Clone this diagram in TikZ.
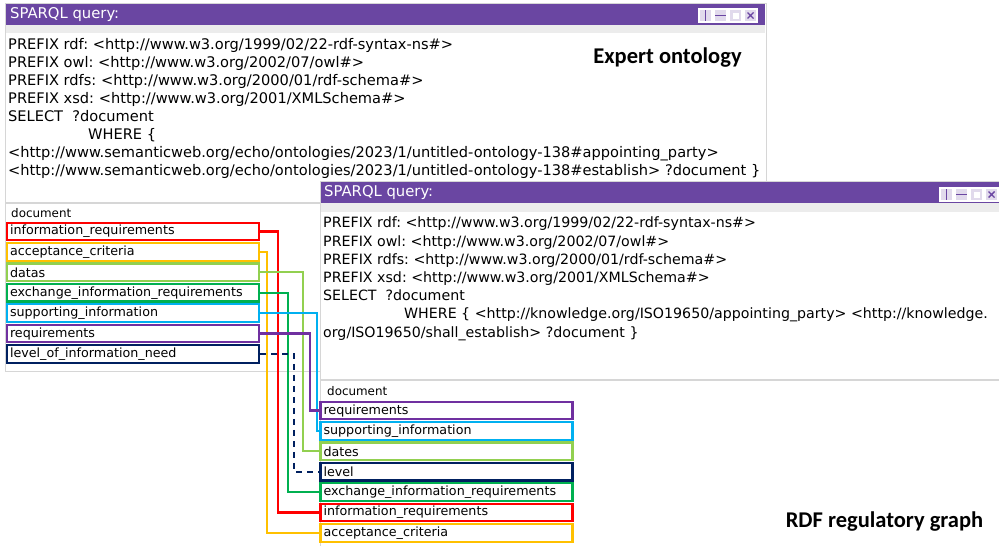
\documentclass[tikz,border=0pt]{standalone}
\usepackage{fontspec}
\setmainfont{DejaVu Sans}
\newfontfamily\headfont{Carlito}
\usepackage{xcolor}
\definecolor{titlecolour}{RGB}{106,70,162}
\definecolor{framecolour}{RGB}{214,214,214}
\definecolor{stripcolour}{RGB}{236,236,236}
\definecolor{inforeqcolour}{RGB}{255,0,0}
\definecolor{acceptcolour}{RGB}{255,192,0}
\definecolor{datecolour}{RGB}{146,208,80}
\definecolor{exchangecolour}{RGB}{0,176,80}
\definecolor{supportcolour}{RGB}{0,176,240}
\definecolor{reqcolour}{RGB}{112,48,160}
\definecolor{levelcolour}{RGB}{0,32,96}
\frenchspacing
\tikzstyle{field} = [rectangle, draw, line width=2.2pt, fill=white, text width=246pt, minimum height=17.5pt, inner xsep=3pt, inner ysep=0pt, align=left, font=\fontsize{12.7}{14}\selectfont]
\tikzstyle{query} = [anchor=north west, inner sep=0pt, align=left, font=\fontsize{14.6}{18.1}\selectfont]
\tikzstyle{titletext} = [anchor=west, inner sep=0pt, text=white, font=\fontsize{14.8}{18}\selectfont]
\tikzstyle{heading} = [anchor=base west, inner sep=0pt, font=\fontsize{11.9}{14}\selectfont]
\tikzstyle{bigcaption} = [inner sep=0pt, font=\headfont\bfseries\fontsize{22.5}{26}\selectfont]
\tikzstyle{link} = [line width=2.2pt]
\tikzstyle{buttonframe} = [draw=white, line width=1.2pt, fill=white!80!titlecolour]
\newcommand{\winbuttons}[2]{%
  \begin{scope}[shift={(#1,#2)}]
    \foreach \k in {0,1,2,3} \draw[buttonframe] (15*\k,0) rectangle ++(13,13);
    \draw[titlecolour, line width=1.4pt] (6.5,1) -- (6.5,12);
    \draw[titlecolour, line width=1.4pt] (16,6.5) -- (27,6.5);
    \fill[white] (33.5,3.5) rectangle (39.5,9.5);
    \draw[titlecolour, line width=1.4pt] (48.5,3.5) -- (54.5,9.5) (48.5,9.5) -- (54.5,3.5);
  \end{scope}}

\begin{document}
\begin{tikzpicture}[x=1pt, y=-1pt, node distance=20.4pt]
	\useasboundingbox (0,0) rectangle (999,546);
	% expert ontology window
	\draw[framecolour, fill=white] (5,3) rectangle (766,371);
	\fill[titlecolour] (6,4) rectangle (765,25);
	\fill[stripcolour] (6,25) rectangle (765,33);
	\draw[framecolour, line width=2pt] (6,203) -- (765,203);
	\winbuttons{699}{9}
	\node (toptitle) [titletext] at (10,15) {SPARQL query:};
	\node (topquery) [query] at (8,38) {PREFIX rdf: <http://www.w3.org/1999/02/22-rdf-syntax-ns\#>\\
		PREFIX owl: <http://www.w3.org/2002/07/owl\#>\\
		PREFIX rdfs: <http://www.w3.org/2000/01/rdf-schema\#>\\
		PREFIX xsd: <http://www.w3.org/2001/XMLSchema\#>\\
		SELECT\ \ ?document\\
		\hspace*{80pt}WHERE \{\\
		<http://www.semanticweb.org/echo/ontologies/2023/1/untitled-ontology-138\#appointing\_party>\\
		<http://www.semanticweb.org/echo/ontologies/2023/1/untitled-ontology-138\#establish> ?document \}};
	\node (expert) [bigcaption] at (667.5,58) {Expert ontology};
	% regulatory graph window
	\draw[framecolour, fill=white] (320,181) rectangle (1005,550);
	\fill[titlecolour] (321,182) rectangle (1005,203);
	\fill[stripcolour] (321,203) rectangle (1005,212);
	\draw[framecolour, line width=2pt] (321,380) -- (1005,380);
	\winbuttons{940}{188}
	\node (righttitle) [titletext] at (324,193) {SPARQL query:};
	\node (rightquery) [query, font=\fontsize{14.2}{18.2}\selectfont] at (323,217) {PREFIX rdf: <http://www.w3.org/1999/02/22-rdf-syntax-ns\#>\\
		PREFIX owl: <http://www.w3.org/2002/07/owl\#>\\
		PREFIX rdfs: <http://www.w3.org/2000/01/rdf-schema\#>\\
		PREFIX xsd: <http://www.w3.org/2001/XMLSchema\#>\\
		SELECT\ \ ?document\\
		\hspace*{81pt}WHERE \{ <http://knowledge.org/ISO19650/appointing\_party> <http://knowledge.\\
		org/ISO19650/shall\_establish> ?document \}};
	\node (rdfgraph) [bigcaption] at (884.5,522) {RDF regulatory graph};
	% result columns
	\node (lhead) [heading] at (11,217.5) {document};
	\node (linforeq) [field, draw=inforeqcolour] at (133,231.5) {information\_requirements};
	\node (laccept) [field, draw=acceptcolour, below of=linforeq] {acceptance\_criteria};
	\node (ldatas) [field, draw=datecolour, below of=laccept] {datas};
	\node (lexchange) [field, draw=exchangecolour, below of=ldatas] {exchange\_information\_requirements};
	\node (lsupport) [field, draw=supportcolour, below of=lexchange] {supporting\_information};
	\node (lreq) [field, draw=reqcolour, below of=lsupport] {requirements};
	\node (llevel) [field, draw=levelcolour, below of=lreq] {level\_of\_information\_need};
	\node (rhead) [heading] at (327,395.5) {document};
	\node (rreq) [field, draw=reqcolour] at (446.5,410.5) {requirements};
	\node (rsupport) [field, draw=supportcolour, below of=rreq] {supporting\_information};
	\node (rdates) [field, draw=datecolour, below of=rsupport] {dates};
	\node (rlevel) [field, draw=levelcolour, below of=rdates] {level};
	\node (rexchange) [field, draw=exchangecolour, below of=rlevel] {exchange\_information\_requirements};
	\node (rinforeq) [field, draw=inforeqcolour, below of=rexchange] {information\_requirements};
	\node (raccept) [field, draw=acceptcolour, below of=rinforeq] {acceptance\_criteria};
	% mappings
	\draw [link, inforeqcolour] (linforeq.east) -- ++(18,0) |- (rinforeq.west);
	\draw [link, acceptcolour] (laccept.east) -- ++(7,0) |- (raccept.west);
	\draw [link, datecolour] (ldatas.east) -- ++(43,0) |- (rdates.west);
	\draw [link, exchangecolour] (lexchange.east) -- ++(28,0) |- (rexchange.west);
	\draw [link, supportcolour] (lsupport.east) -- ++(57,0) |- (rsupport.west);
	\draw [link, reqcolour] (lreq.east) -- ++(50,0) |- (rreq.west);
	\draw [link, levelcolour, dash pattern=on 6pt off 5pt] (llevel.east) -- ++(34,0) |- (rlevel.west);
\end{tikzpicture}
\end{document}
